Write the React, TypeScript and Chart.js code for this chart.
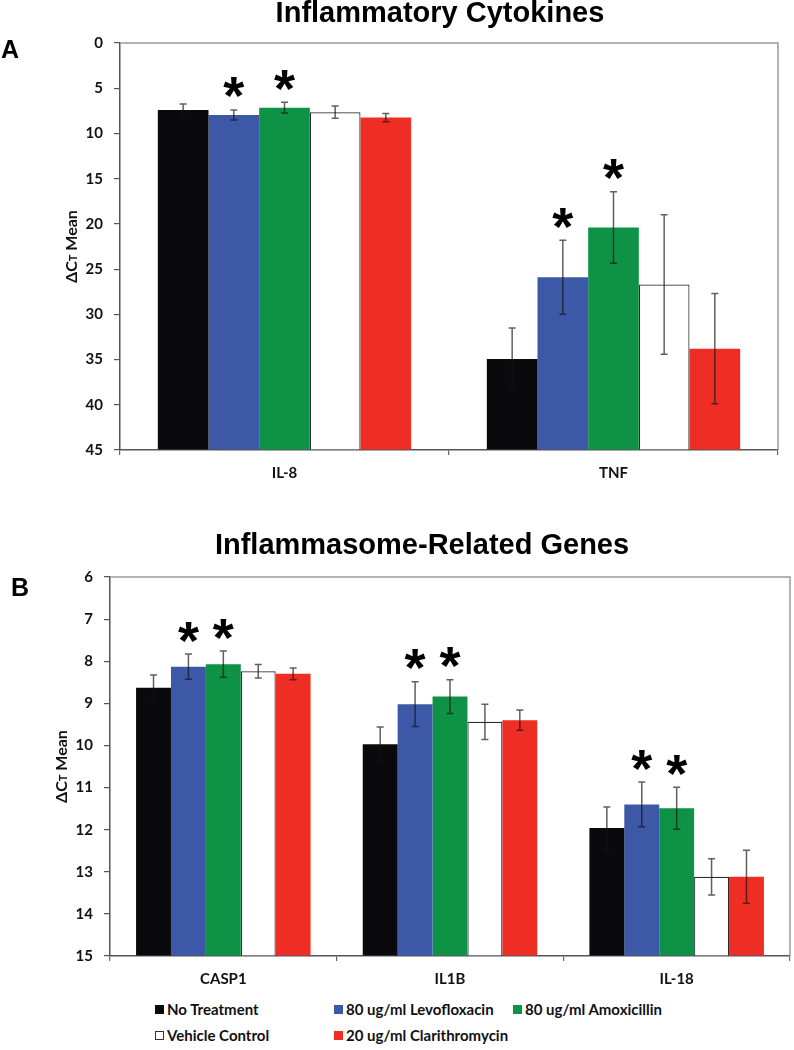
import React, { useEffect, useRef } from "react";
import { Chart, registerables } from "chart.js";

Chart.register(...registerables);

// ---------- Series (shared by both panels) ----------
const seriesNames = [
  "No Treatment",
  "80 ug/ml Levofloxacin",
  "80 ug/ml Amoxicillin",
  "Vehicle Control",
  "20 ug/ml Clarithromycin",
];
const seriesColors = ["#0a0a0c", "#3d58a6", "#0e9346", "#ffffff", "#ee2e24"];

// ---------- Panel A: Inflammatory Cytokines ----------
const cytoCategories = ["IL-8", "TNF"];
const cytoTicks = { min: 0, max: 45, step: 5 };
const cytoNoTreatment = [7.4, 34.95];
const cytoLevofloxacin = [7.95, 25.9];
const cytoAmoxicillin = [7.15, 20.4];
const cytoVehicle = [7.65, 26.7];
const cytoClarithromycin = [8.25, 33.8];
const cytoErrNoTreatment = [0.65, 3.45];
const cytoErrLevofloxacin = [0.55, 4.1];
const cytoErrAmoxicillin = [0.6, 3.95];
const cytoErrVehicle = [0.68, 7.7];
const cytoErrClarithromycin = [0.45, 6.1];
const cytoSigLevofloxacin = [true, true];
const cytoSigAmoxicillin = [true, true];

// ---------- Panel B: Inflammasome-Related Genes ----------
const geneCategories = ["CASP1", "IL1B", "IL-18"];
const geneTicks = { min: 6, max: 15, step: 1 };
const geneNoTreatment = [8.63, 9.97, 11.96];
const geneLevofloxacin = [8.13, 9.02, 11.4];
const geneAmoxicillin = [8.07, 8.84, 11.49];
const geneVehicle = [8.24, 9.44, 13.12];
const geneClarithromycin = [8.3, 9.4, 13.12];
const geneErrNoTreatment = [0.3, 0.41, 0.5];
const geneErrLevofloxacin = [0.3, 0.53, 0.53];
const geneErrAmoxicillin = [0.31, 0.4, 0.5];
const geneErrVehicle = [0.16, 0.42, 0.43];
const geneErrClarithromycin = [0.14, 0.24, 0.63];
const geneSigLevofloxacin = [true, true, true];
const geneSigAmoxicillin = [true, true, true];

const FONT_FAMILY = "Lato, 'DejaVu Sans', sans-serif";
const TICK_FONT = { family: FONT_FAMILY, weight: "bold" as const, size: 15 };

const extrasPlugin = {
  id: "panelExtras",
  beforeDatasetsDraw(chart: any) {
    const { ctx, chartArea } = chart;
    ctx.save();
    ctx.strokeStyle = "#9a9a9a";
    ctx.lineWidth = 1.5;
    ctx.beginPath();
    ctx.moveTo(chartArea.left, chartArea.top);
    ctx.lineTo(chartArea.right, chartArea.top);
    ctx.lineTo(chartArea.right, chartArea.bottom);
    ctx.stroke();
    ctx.restore();
  },
  afterDatasetsDraw(chart: any) {
    const { ctx } = chart;
    const yScale = chart.scales.y;
    chart.data.datasets.forEach((ds: any, di: number) => {
      const meta = chart.getDatasetMeta(di);
      meta.data.forEach((bar: any, i: number) => {
        const v = ds.data[i];
        const e = ds.errors[i];
        const yTop = yScale.getPixelForValue(v - e);
        const yBot = yScale.getPixelForValue(v + e);
        ctx.save();
        ctx.strokeStyle = "rgba(20,20,20,0.68)";
        ctx.lineWidth = 1.5;
        ctx.beginPath();
        ctx.moveTo(bar.x, yTop);
        ctx.lineTo(bar.x, yBot);
        ctx.moveTo(bar.x - 3.5, yTop);
        ctx.lineTo(bar.x + 3.5, yTop);
        ctx.moveTo(bar.x - 3.5, yBot);
        ctx.lineTo(bar.x + 3.5, yBot);
        ctx.stroke();
        if (ds.sig && ds.sig[i]) {
          ctx.fillStyle = "#000";
          ctx.font = "bold 54px 'Liberation Sans', Arial, sans-serif";
          ctx.textAlign = "center";
          ctx.textBaseline = "alphabetic";
          const m = ctx.measureText("*");
          const cy = yTop - 22;
          ctx.fillText("*", bar.x, cy + (m.actualBoundingBoxAscent - m.actualBoundingBoxDescent) / 2);
        }
        ctx.restore();
      });
    });
  },
  afterDraw(chart: any) {
    const { ctx, chartArea } = chart;
    ctx.save();
    ctx.translate(chartArea.left - 49, (chartArea.top + chartArea.bottom) / 2);
    ctx.rotate(-Math.PI / 2);
    ctx.fillStyle = "#111";
    ctx.textBaseline = "alphabetic";
    ctx.textAlign = "left";
    const big = `bold 16px ${FONT_FAMILY}`;
    const small = `bold 11px ${FONT_FAMILY}`;
    const parts: [string, string][] = [["\u0394C", big], ["T", small], [" Mean", big]];
    let total = 0;
    const widths = parts.map(([t, f]) => {
      ctx.font = f;
      const w = ctx.measureText(t).width;
      total += w;
      return w;
    });
    let x = -total / 2;
    parts.forEach(([t, f], k) => {
      ctx.font = f;
      ctx.fillText(t, x, 6);
      x += widths[k];
    });
    ctx.restore();
  },
};

type PanelProps = {
  categories: string[];
  values: number[][];
  errors: number[][];
  sig: (boolean[] | null)[];
  ticks: { min: number; max: number; step: number };
  width: number;
  height: number;
  padTop: number;
  padRight: number;
  yWidth: number;
  xHeight: number;
};

function BarPanel(p: PanelProps) {
  const ref = useRef<HTMLCanvasElement | null>(null);
  useEffect(() => {
    if (!ref.current) return;
    const chart = new Chart(ref.current, {
      type: "bar",
      data: {
        labels: p.categories,
        datasets: seriesNames.map((name, si) => ({
          label: name,
          data: p.values[si],
          errors: p.errors[si],
          sig: p.sig[si],
          base: p.ticks.max,
          backgroundColor: seriesColors[si],
          borderColor: si === 3 ? "#2a2a2a" : seriesColors[si],
          borderWidth: si === 3 ? 1.2 : 0,
          categoryPercentage: 0.77,
          barPercentage: 1,
        })) as any,
      },
      options: {
        responsive: false,
        animation: false,
        layout: { padding: { left: 0, top: p.padTop, right: p.padRight, bottom: 0 } },
        plugins: {
          legend: { display: false },
          tooltip: { enabled: false },
          title: { display: false },
        },
        scales: {
          x: {
            grid: { offset: true, drawOnChartArea: false, drawTicks: true, tickLength: 5, color: "#666", lineWidth: 1.2 },
            border: { display: true, color: "#555", width: 1.5 },
            ticks: { font: TICK_FONT, color: "#111", padding: 9 },
            afterFit: (s: any) => {
              s.height = p.xHeight;
            },
          },
          y: {
            reverse: true,
            min: p.ticks.min,
            max: p.ticks.max,
            ticks: { stepSize: p.ticks.step, font: TICK_FONT, color: "#111", padding: 11 },
            grid: { drawOnChartArea: false, drawTicks: true, tickLength: 6, color: "#555", lineWidth: 1.2 },
            border: { display: true, color: "#555", width: 1.5 },
            afterFit: (s: any) => {
              s.width = p.yWidth;
            },
          },
        },
      },
      plugins: [extrasPlugin],
    });
    return () => chart.destroy();
  }, []);
  return <canvas ref={ref} width={p.width} height={p.height} style={{ display: "block" }} />;
}

const titleStyle: React.CSSProperties = {
  position: "absolute",
  fontFamily: "'Liberation Sans', Arial, sans-serif",
  fontWeight: "bold",
  fontSize: 29,
  lineHeight: "29px",
  whiteSpace: "nowrap",
  color: "#000",
  transform: "translateX(-50%)",
};
const letterStyle: React.CSSProperties = {
  position: "absolute",
  fontFamily: "'Liberation Sans', Arial, sans-serif",
  fontWeight: "bold",
  fontSize: 25,
  lineHeight: "25px",
  color: "#000",
};
const legendCols = [155, 334, 513];
const legendRows = [1010, 1036];

export default function App() {
  return (
    <div style={{ position: "absolute", left: 0, top: 0, width: 794, height: 1050, background: "#fff", overflow: "hidden" }}>
      <div style={{ position: "absolute", left: 0, top: 0 }}>
        <BarPanel
          categories={cytoCategories}
          values={[cytoNoTreatment, cytoLevofloxacin, cytoAmoxicillin, cytoVehicle, cytoClarithromycin]}
          errors={[cytoErrNoTreatment, cytoErrLevofloxacin, cytoErrAmoxicillin, cytoErrVehicle, cytoErrClarithromycin]}
          sig={[null, cytoSigLevofloxacin, cytoSigAmoxicillin, null, null]}
          ticks={cytoTicks}
          width={794}
          height={500}
          padTop={43}
          padRight={16}
          yWidth={120}
          xHeight={50}
        />
      </div>
      <div style={{ position: "absolute", left: 0, top: 500 }}>
        <BarPanel
          categories={geneCategories}
          values={[geneNoTreatment, geneLevofloxacin, geneAmoxicillin, geneVehicle, geneClarithromycin]}
          errors={[geneErrNoTreatment, geneErrLevofloxacin, geneErrAmoxicillin, geneErrVehicle, geneErrClarithromycin]}
          sig={[null, geneSigLevofloxacin, geneSigAmoxicillin, null, null]}
          ticks={geneTicks}
          width={794}
          height={500}
          padTop={77}
          padRight={4}
          yWidth={110}
          xHeight={44}
        />
      </div>
      <div style={{ ...titleStyle, left: 440, top: -2 }}>Inflammatory Cytokines</div>
      <div style={{ ...titleStyle, left: 422, top: 530 }}>Inflammasome-Related Genes</div>
      <div style={{ ...letterStyle, left: 1, top: 37 }}>A</div>
      <div style={{ ...letterStyle, left: 11, top: 575 }}>B</div>
      {seriesNames.map((name, i) => {
        const col = i % 3;
        const row = Math.floor(i / 3);
        const cx = legendCols[col];
        const cy = legendRows[row];
        return (
          <div key={name}>
            <div
              style={{
                position: "absolute",
                left: cx,
                top: cy - 5,
                width: i === 3 ? 7 : 9,
                height: i === 3 ? 7 : 9,
                background: seriesColors[i],
                border: i === 3 ? "1px solid #333" : "none",
              }}
            />
            <div
              style={{
                position: "absolute",
                left: cx + 12,
                top: cy - 9,
                fontFamily: FONT_FAMILY,
                fontWeight: "bold",
                fontSize: 15,
                lineHeight: "17px",
                whiteSpace: "nowrap",
                color: "#111",
              }}
            >
              {name}
            </div>
          </div>
        );
      })}
    </div>
  );
}
